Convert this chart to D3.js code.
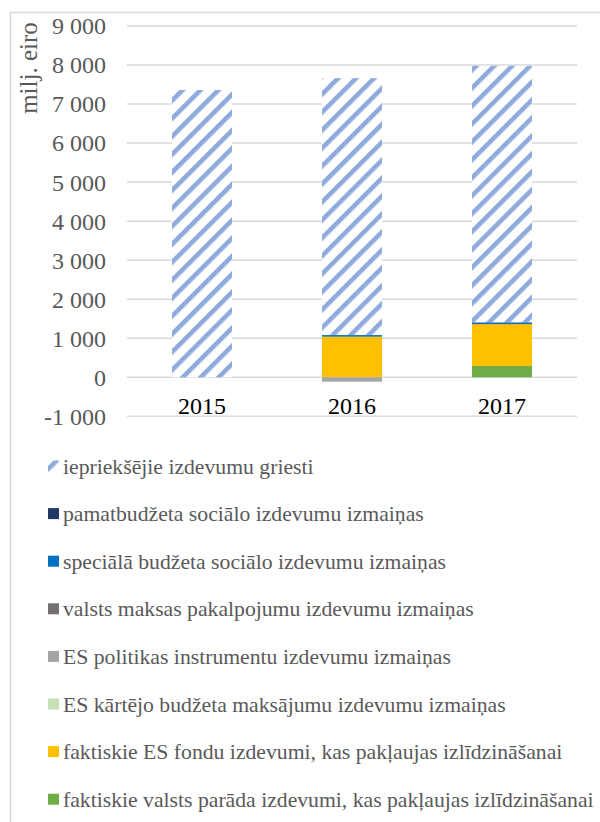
<!DOCTYPE html>
<html>
<head>
<meta charset="utf-8">
<script src="https://cdn.jsdelivr.net/npm/d3@7"></script>
<style>
  body { margin: 0; background: #fff; }
  svg text { font-family: "Times New Roman", "Liberation Serif", serif; }
</style>
</head>
<body>
<div id="viz"></div>
<script>
const width = 600;
const height = 822;

// Data (milj. eiro)
const years = ["2015", "2016", "2017"];
const seriesNames = [
  "iepriekšējie izdevumu griesti",
  "pamatbudžeta sociālo izdevumu izmaiņas",
  "speciālā budžeta sociālo izdevumu izmaiņas",
  "valsts maksas pakalpojumu izdevumu izmaiņas",
  "ES politikas instrumentu izdevumu izmaiņas",
  "ES kārtējo budžeta maksājumu izdevumu izmaiņas",
  "faktiskie ES fondu izdevumi, kas pakļaujas izlīdzināšanai",
  "faktiskie valsts parāda izdevumi, kas pakļaujas izlīdzināšanai"
];
const prevCeiling = [7360, 6580, 6570];
const basicBudgetSocial = [0, 5, 10];
const specialBudgetSocial = [0, 40, 40];
const paidServices = [0, -10, 0];
const euPolicyInstruments = [0, -100, 0];
const euCurrentBudget = [0, 0, 0];
const euFunds = [0, 1040, 1070];
const stateDebt = [0, 0, 290];
const yTicks = [-1000, 0, 1000, 2000, 3000, 4000, 5000, 6000, 7000, 8000, 9000];

const seriesValues = [prevCeiling, basicBudgetSocial, specialBudgetSocial, paidServices,
  euPolicyInstruments, euCurrentBudget, euFunds, stateDebt];
const colors = ["url(#hatch)", "#203864", "#0070C0", "#767171", "#A5A5A5", "#C5E0B4", "#FFC000", "#70AD47"];

const rows = years.map((y, i) => {
  const r = { year: y };
  seriesNames.forEach((n, k) => r[n] = seriesValues[k][i]);
  return r;
});

// stacked bottom-up: last legend entry at the bottom
const stackKeys = seriesNames.slice().reverse();
const stacked = d3.stack().keys(stackKeys).offset(d3.stackOffsetDiverging)(rows);

const svg = d3.select("#viz").append("svg")
  .attr("width", width)
  .attr("height", height);

const defs = svg.append("defs");
const pat = defs.append("pattern")
  .attr("id", "hatch")
  .attr("patternUnits", "userSpaceOnUse")
  .attr("width", 12.7)
  .attr("height", 12.7)
  .attr("patternTransform", "rotate(45)");
pat.append("rect").attr("width", 12.7).attr("height", 12.7).attr("fill", "#fff");
pat.append("rect").attr("width", 4.6).attr("height", 12.7).attr("fill", "#8FAADC");

// chart area border
svg.append("rect")
  .attr("x", 10.5).attr("y", 12.5)
  .attr("width", 620).attr("height", 840)
  .attr("fill", "none")
  .attr("stroke", "#D9D9D9")
  .attr("stroke-width", 1.5);

const x = d3.scaleBand().domain(years).range([127, 577]).paddingInner(0.6).paddingOuter(0.3);
const y = d3.scaleLinear().domain([-1000, 9000]).range([416.3, 26]);

// gridlines
svg.append("g")
  .selectAll("line")
  .data(yTicks)
  .join("line")
  .attr("x1", 127).attr("x2", 577)
  .attr("y1", d => y(d)).attr("y2", d => y(d))
  .attr("stroke", "#D9D9D9")
  .attr("stroke-width", 1.5);

const fmt = d => (d < 0 ? "-" : "") + d3.format(",")(Math.abs(d)).replace(/,/g, " ");

svg.append("g")
  .selectAll("text")
  .data(yTicks)
  .join("text")
  .attr("x", 106)
  .attr("y", d => y(d))
  .attr("dy", "0.35em")
  .attr("text-anchor", "end")
  .attr("font-size", "24px")
  .attr("fill", "#595959")
  .text(fmt);

svg.append("text")
  .attr("transform", "translate(37,68) rotate(-90)")
  .attr("text-anchor", "middle")
  .attr("font-size", "25px")
  .attr("fill", "#595959")
  .text("milj. eiro");

// bars
svg.append("g")
  .selectAll("g")
  .data(stacked)
  .join("g")
  .attr("fill", d => colors[seriesNames.indexOf(d.key)])
  .selectAll("rect")
  .data(d => d)
  .join("rect")
  .attr("x", d => x(d.data.year))
  .attr("width", x.bandwidth())
  .attr("y", d => y(Math.max(d[0], d[1])))
  .attr("height", d => Math.abs(y(d[0]) - y(d[1])));

// category labels
svg.append("g")
  .selectAll("text")
  .data(years)
  .join("text")
  .attr("x", d => x(d) + x.bandwidth() / 2)
  .attr("y", 414)
  .attr("text-anchor", "middle")
  .attr("font-size", "24px")
  .attr("fill", "#000")
  .text(d => d);

// legend
const legend = svg.append("g")
  .selectAll("g")
  .data(seriesNames)
  .join("g")
  .attr("transform", (d, i) => `translate(48,${466 + i * 47.6})`);

legend.append("rect")
  .attr("x", 0).attr("y", -5.5)
  .attr("width", 11).attr("height", 11)
  .attr("fill", (d, i) => colors[i]);

legend.append("text")
  .attr("x", 15)
  .attr("dy", "0.35em")
  .attr("font-size", "21.7px")
  .attr("fill", "#595959")
  .text(d => d);
</script>
</body>
</html>
